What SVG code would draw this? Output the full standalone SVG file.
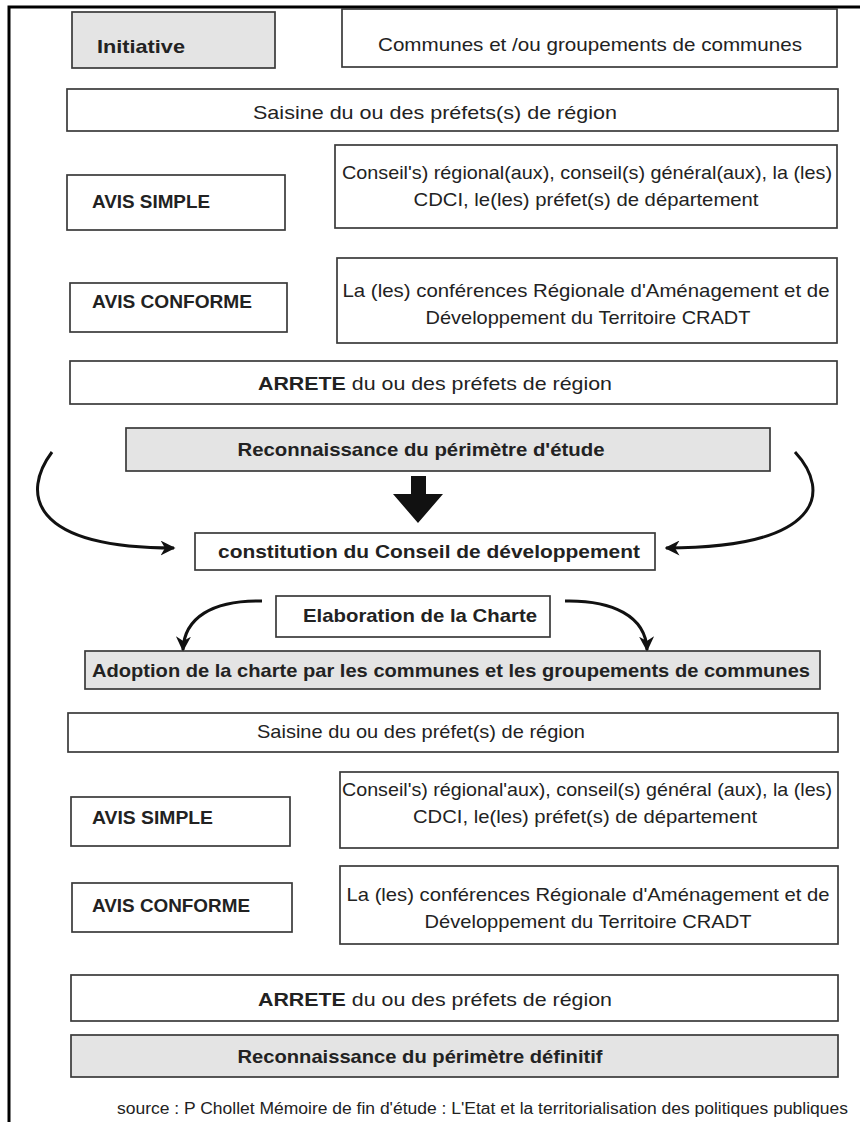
<svg xmlns="http://www.w3.org/2000/svg" width="860" height="1122" viewBox="0 0 860 1122">
<defs>
<style>
.box{fill:#ffffff;stroke:#3a3a3a;stroke-width:1.7}
.gray{fill:#e4e4e4;stroke:#3a3a3a;stroke-width:1.7}
.t{font-family:"Liberation Sans",Arial,sans-serif;font-size:19px;fill:#222}
.b{font-weight:bold}
.c{text-anchor:middle}
.conn{fill:none;stroke:#111;stroke-width:3}
</style>
<marker id="ah" viewBox="0 0 10 10" refX="9" refY="5" markerWidth="5" markerHeight="5" orient="auto" markerUnits="strokeWidth">
<path d="M0,0 L10,5 L0,10 L3,5 z" fill="#111"/>
</marker>
</defs>
<rect width="860" height="1122" fill="#ffffff"/>
<g id="frame">
<path d="M9 1122 V7 H860" fill="none" stroke="#000" stroke-width="3"/>
</g>
<g id="initiative">
<rect class="gray" x="72" y="12" width="203" height="56"/>
<text class="t b" x="97" y="53" textLength="88" lengthAdjust="spacingAndGlyphs">Initiative</text>
</g>
<g id="communes">
<rect class="box" x="342" y="9" width="495" height="58"/>
<text class="t c" x="590" y="51" textLength="424" lengthAdjust="spacingAndGlyphs">Communes et /ou groupements de communes</text>
</g>
<g id="saisine1">
<rect class="box" x="67" y="89" width="771" height="42"/>
<text class="t c" x="435" y="119" textLength="364" lengthAdjust="spacingAndGlyphs">Saisine du ou des préfets(s) de région</text>
</g>
<g id="avis-simple1">
<rect class="box" x="67" y="175" width="218" height="55"/>
<text class="t b" x="92" y="208" textLength="118" lengthAdjust="spacingAndGlyphs">AVIS SIMPLE</text>
</g>
<g id="conseil1">
<rect class="box" x="335" y="145" width="502" height="83"/>
<text class="t c" x="587" y="179" textLength="490" lengthAdjust="spacingAndGlyphs">Conseil's) régional(aux), conseil(s) général(aux), la (les)</text>
<text class="t c" x="586" y="206" textLength="345" lengthAdjust="spacingAndGlyphs">CDCI, le(les) préfet(s) de département</text>
</g>
<g id="avis-conforme1">
<rect class="box" x="70" y="283" width="217" height="49"/>
<text class="t b" x="92" y="308" textLength="160" lengthAdjust="spacingAndGlyphs">AVIS CONFORME</text>
</g>
<g id="conference1">
<rect class="box" x="337" y="258" width="500" height="85"/>
<text class="t c" x="586" y="297" textLength="487" lengthAdjust="spacingAndGlyphs">La (les) conférences Régionale d'Aménagement et de</text>
<text class="t c" x="588" y="324" textLength="325" lengthAdjust="spacingAndGlyphs">Développement du Territoire CRADT</text>
</g>
<g id="arrete1">
<rect class="box" x="70" y="361" width="767" height="43"/>
<text class="t c" x="435" y="390" textLength="354" lengthAdjust="spacingAndGlyphs"><tspan class="b">ARRETE</tspan> du ou des préfets de région</text>
</g>
<g id="reconnaissance-etude">
<rect class="gray" x="126" y="428" width="644" height="43"/>
<text class="t b c" x="421" y="456" textLength="367" lengthAdjust="spacingAndGlyphs">Reconnaissance du périmètre d'étude</text>
</g>
<g id="constitution">
<rect class="box" x="195" y="533" width="460" height="37"/>
<text class="t b c" x="429" y="558" textLength="422" lengthAdjust="spacingAndGlyphs">constitution du Conseil de développement</text>
</g>
<g id="elaboration">
<rect class="box" x="276" y="596" width="274" height="41"/>
<text class="t b c" x="420" y="622" textLength="234" lengthAdjust="spacingAndGlyphs">Elaboration de la Charte</text>
</g>
<g id="adoption">
<rect class="gray" x="85" y="651" width="735" height="38"/>
<text class="t b c" x="451" y="677" textLength="718" lengthAdjust="spacingAndGlyphs">Adoption de la charte par les communes et les groupements de communes</text>
</g>
<g id="saisine2">
<rect class="box" x="68" y="713" width="770" height="39"/>
<text class="t c" x="421" y="738" textLength="328" lengthAdjust="spacingAndGlyphs">Saisine du ou des préfet(s) de région</text>
</g>
<g id="avis-simple2">
<rect class="box" x="71" y="797" width="219" height="49"/>
<text class="t b" x="92" y="824" textLength="121" lengthAdjust="spacingAndGlyphs">AVIS SIMPLE</text>
</g>
<g id="conseil2">
<rect class="box" x="340" y="772" width="498" height="76"/>
<text class="t c" x="587" y="796" textLength="490" lengthAdjust="spacingAndGlyphs">Conseil's) régional'aux), conseil(s) général (aux), la (les)</text>
<text class="t c" x="585" y="823" textLength="344" lengthAdjust="spacingAndGlyphs">CDCI, le(les) préfet(s) de département</text>
</g>
<g id="avis-conforme2">
<rect class="box" x="72" y="883" width="220" height="49"/>
<text class="t b" x="92" y="912" textLength="158" lengthAdjust="spacingAndGlyphs">AVIS CONFORME</text>
</g>
<g id="conference2">
<rect class="box" x="340" y="866" width="498" height="78"/>
<text class="t c" x="588" y="901" textLength="483" lengthAdjust="spacingAndGlyphs">La (les) conférences Régionale d'Aménagement et de</text>
<text class="t c" x="588" y="928" textLength="327" lengthAdjust="spacingAndGlyphs">Développement du Territoire CRADT</text>
</g>
<g id="arrete2">
<rect class="box" x="71" y="975" width="767" height="46"/>
<text class="t c" x="435" y="1006" textLength="354" lengthAdjust="spacingAndGlyphs"><tspan class="b">ARRETE</tspan> du ou des préfets de région</text>
</g>
<g id="reconnaissance-definitif">
<rect class="gray" x="71" y="1035" width="767" height="42"/>
<text class="t b c" x="420" y="1063" textLength="365" lengthAdjust="spacingAndGlyphs">Reconnaissance du périmètre définitif</text>
</g>
<g id="source">
<text class="t" x="117" y="1114" style="font-size:16px" textLength="731" lengthAdjust="spacingAndGlyphs">source : P Chollet Mémoire de fin d'étude : L'Etat et la territorialisation des politiques publiques</text>
</g>
<g id="connectors">
<polygon points="411,476 426,476 426,494 443,494 418,523 393,494 411,494" fill="#111"/>
<path class="conn" d="M52 452 C22 492 28 548 174 548" marker-end="url(#ah)"/>
<path class="conn" d="M795 452 C832 492 822 548 666 548" marker-end="url(#ah)"/>
<path class="conn" d="M262 601 C212 600 184 618 183 650" marker-end="url(#ah)"/>
<path class="conn" d="M565 601 C612 600 646 616 647 650" marker-end="url(#ah)"/>
</g>
</svg>
